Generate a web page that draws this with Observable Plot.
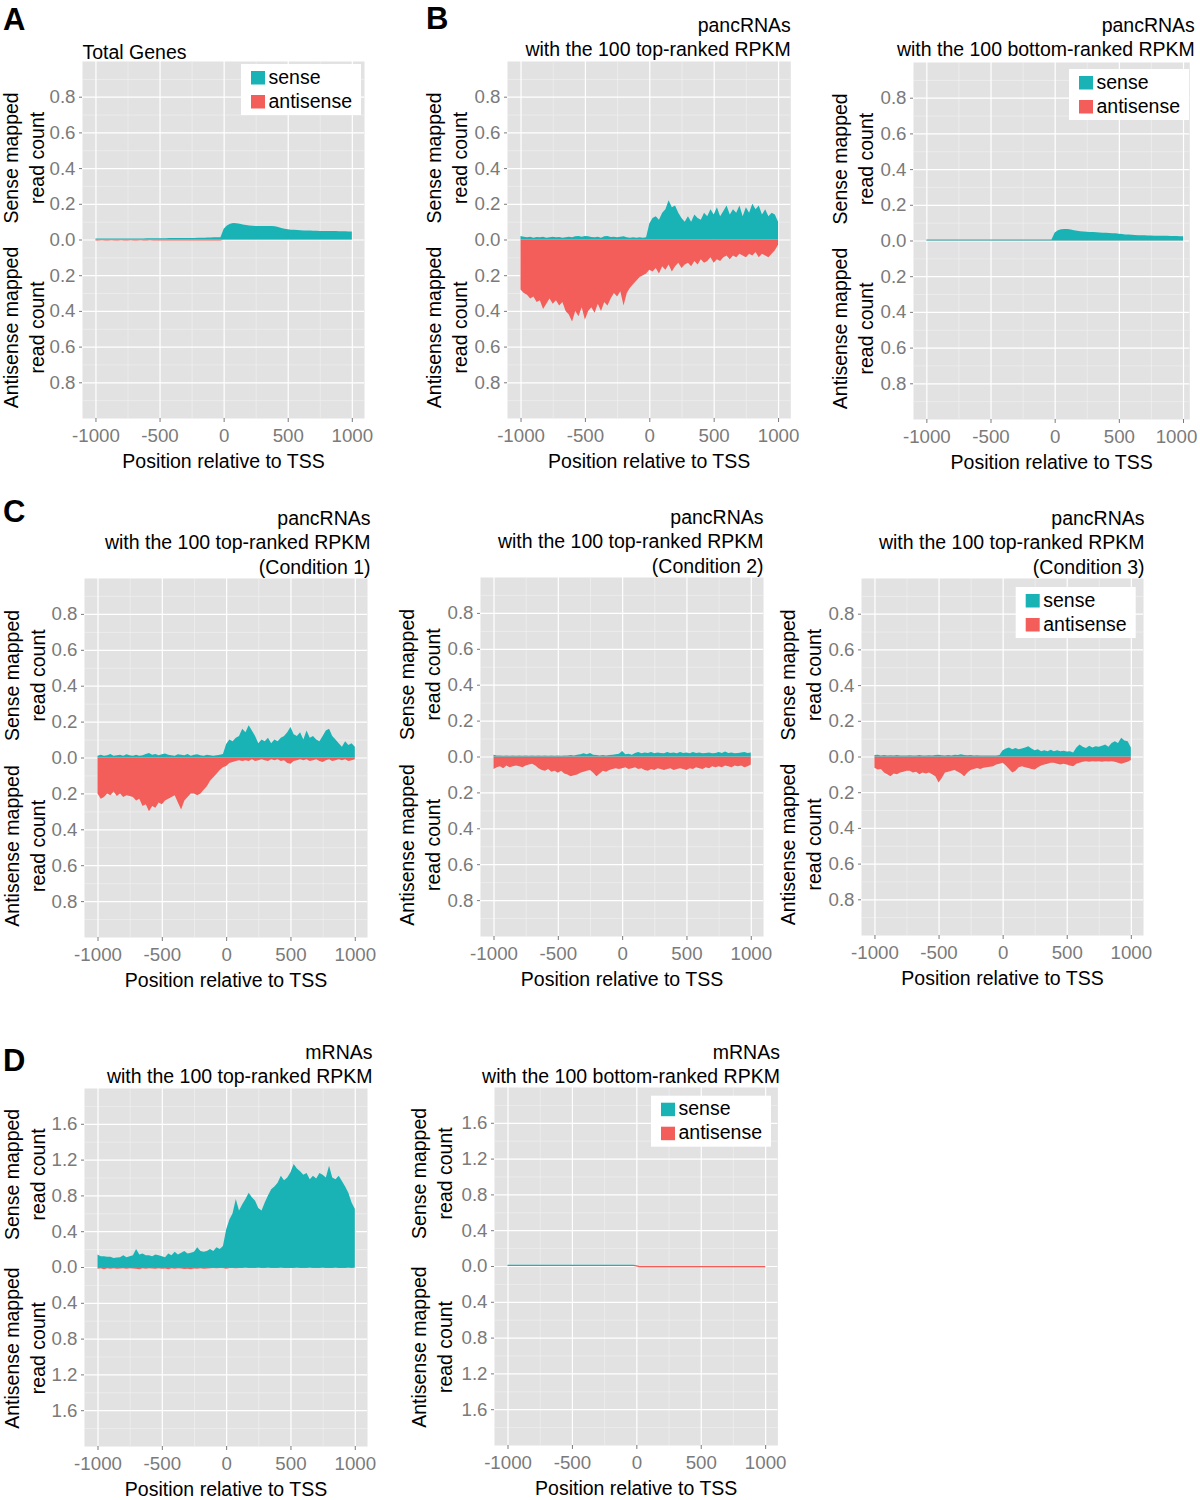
<!DOCTYPE html>
<html>
<head>
<meta charset="utf-8">
<script src="https://cdn.jsdelivr.net/npm/d3@7"></script>
<script src="https://cdn.jsdelivr.net/npm/@observablehq/plot@0.6"></script>
<style>
  body { margin: 0; background: #fff; }
  #page { position: relative; width: 1200px; height: 1500px; overflow: hidden; background: #fff; }
  .panel { position: absolute; }
  #overlay { position: absolute; left: 0; top: 0; pointer-events: none; }
</style>
</head>
<body>
<div id="page"></div>
<script>
// ---------- data ----------
const positions = [
  -1000,-975,-950,-925,-900,-875,-850,-825,-800,-775,
  -750,-725,-700,-675,-650,-625,-600,-575,-550,-525,
  -500,-475,-450,-425,-400,-375,-350,-325,-300,-275,
  -250,-225,-200,-175,-150,-125,-100,-75,-50,-25,
  0,25,50,75,100,125,150,175,200,225,
  250,275,300,325,350,375,400,425,450,475,
  500,525,550,575,600,625,650,675,700,725,
  750,775,800,825,850,875,900,925,950,975,1000
];

// Panel A: Total Genes
const totalSense = [
  0.006,0.006,0.006,0.006,0.006,0.006,0.006,0.006,0.006,0.006,
  0.006,0.006,0.006,0.006,0.006,0.006,0.007,0.007,0.007,0.007,
  0.007,0.007,0.007,0.008,0.008,0.008,0.008,0.008,0.009,0.009,
  0.009,0.009,0.010,0.010,0.010,0.011,0.011,0.012,0.012,0.013,
  0.060,0.078,0.088,0.092,0.091,0.088,0.084,0.081,0.079,0.077,
  0.076,0.075,0.075,0.075,0.075,0.076,0.074,0.070,0.065,0.060,
  0.057,0.055,0.054,0.053,0.052,0.051,0.050,0.050,0.049,0.049,
  0.048,0.048,0.048,0.047,0.047,0.047,0.046,0.046,0.046,0.045,0.045
];
const totalAntisense = [
  0.005,0.005,0.004,0.005,0.005,0.004,0.005,0.005,0.004,0.005,
  0.005,0.004,0.005,0.005,0.004,0.005,0.005,0.004,0.005,0.005,
  0.005,0.006,0.005,0.005,0.006,0.005,0.005,0.006,0.005,0.005,
  0.006,0.005,0.005,0.006,0.005,0.005,0.006,0.005,0.005,0.005,
  0.002,0.002,0.002,0.002,0.002,0.002,0.002,0.002,0.002,0.002,
  0.002,0.002,0.002,0.002,0.002,0.002,0.002,0.002,0.002,0.002,
  0.002,0.002,0.002,0.002,0.002,0.002,0.002,0.002,0.002,0.002,
  0.002,0.002,0.002,0.002,0.002,0.002,0.002,0.002,0.002,0.002,0.002
];

// Panel B (left): pancRNAs, 100 top-ranked RPKM
const pancTopSense = [
  0.020,0.015,0.012,0.015,0.010,0.014,0.012,0.016,0.010,0.012,
  0.015,0.012,0.014,0.010,0.012,0.016,0.013,0.018,0.020,0.015,
  0.020,0.018,0.014,0.012,0.016,0.010,0.018,0.020,0.014,0.016,
  0.012,0.015,0.018,0.012,0.010,0.012,0.010,0.012,0.010,0.012,
  0.090,0.120,0.130,0.110,0.150,0.170,0.220,0.180,0.190,0.150,
  0.120,0.100,0.130,0.100,0.140,0.120,0.110,0.150,0.130,0.170,
  0.140,0.180,0.130,0.160,0.190,0.140,0.170,0.150,0.190,0.130,
  0.180,0.150,0.200,0.170,0.190,0.140,0.170,0.130,0.150,0.140,0.100
];
const pancTopAntisense = [
  0.28,0.30,0.31,0.33,0.32,0.35,0.34,0.39,0.36,0.33,
  0.36,0.34,0.37,0.35,0.40,0.42,0.46,0.40,0.43,0.38,
  0.45,0.40,0.38,0.41,0.36,0.40,0.35,0.37,0.33,0.30,
  0.32,0.29,0.37,0.30,0.27,0.25,0.23,0.21,0.20,0.19,
  0.17,0.18,0.16,0.19,0.15,0.17,0.14,0.18,0.15,0.13,
  0.16,0.14,0.13,0.15,0.12,0.14,0.11,0.13,0.12,0.10,
  0.13,0.11,0.12,0.10,0.09,0.11,0.09,0.10,0.08,0.09,
  0.10,0.08,0.09,0.07,0.10,0.08,0.09,0.10,0.08,0.06,0.03
];

// Panel B (right): pancRNAs, 100 bottom-ranked RPKM
const pancBottomSense = [
  0.005,0.005,0.005,0.005,0.005,0.005,0.005,0.005,0.005,0.005,
  0.005,0.005,0.005,0.005,0.005,0.005,0.005,0.005,0.005,0.005,
  0.005,0.005,0.005,0.005,0.005,0.005,0.005,0.005,0.005,0.005,
  0.005,0.005,0.005,0.005,0.005,0.005,0.006,0.006,0.006,0.006,
  0.045,0.058,0.063,0.065,0.064,0.061,0.057,0.054,0.052,0.050,
  0.049,0.048,0.047,0.046,0.045,0.044,0.043,0.042,0.041,0.040,
  0.038,0.036,0.034,0.033,0.032,0.031,0.030,0.029,0.029,0.028,
  0.028,0.027,0.027,0.027,0.026,0.026,0.025,0.025,0.025,0.024,0.024
];
const pancBottomAntisense = [
  0.002,0.002,0.002,0.002,0.002,0.002,0.002,0.002,0.002,0.002,
  0.002,0.002,0.002,0.002,0.002,0.002,0.002,0.002,0.002,0.002,
  0.002,0.002,0.002,0.002,0.002,0.002,0.002,0.002,0.002,0.002,
  0.002,0.002,0.002,0.002,0.002,0.002,0.002,0.002,0.002,0.002,
  0.002,0.002,0.002,0.002,0.002,0.002,0.002,0.002,0.002,0.002,
  0.002,0.002,0.002,0.002,0.002,0.002,0.002,0.002,0.002,0.002,
  0.002,0.002,0.002,0.002,0.002,0.002,0.002,0.002,0.002,0.002,
  0.002,0.002,0.002,0.002,0.002,0.002,0.002,0.002,0.002,0.002,0.002
];

// Panel C: Condition 1
const cond1Sense = [
  0.010,0.015,0.010,0.012,0.020,0.010,0.012,0.015,0.010,0.018,
  0.012,0.010,0.015,0.010,0.012,0.020,0.025,0.015,0.020,0.012,
  0.018,0.022,0.015,0.012,0.010,0.018,0.015,0.012,0.020,0.010,
  0.015,0.018,0.012,0.010,0.015,0.012,0.010,0.012,0.015,0.020,
  0.075,0.100,0.090,0.110,0.120,0.160,0.140,0.180,0.150,0.120,
  0.080,0.100,0.090,0.110,0.080,0.100,0.090,0.110,0.120,0.140,
  0.170,0.130,0.120,0.140,0.100,0.150,0.110,0.120,0.100,0.090,
  0.120,0.150,0.160,0.120,0.100,0.080,0.060,0.090,0.070,0.080,0.060
];
const cond1Antisense = [
  0.200,0.230,0.220,0.200,0.210,0.190,0.215,0.200,0.220,0.210,
  0.215,0.220,0.240,0.230,0.270,0.260,0.300,0.270,0.280,0.250,
  0.260,0.240,0.230,0.220,0.210,0.250,0.290,0.240,0.220,0.200,
  0.200,0.210,0.200,0.180,0.160,0.130,0.110,0.090,0.070,0.055,
  0.047,0.030,0.025,0.020,0.015,0.020,0.015,0.020,0.010,0.020,
  0.015,0.010,0.015,0.020,0.010,0.015,0.010,0.020,0.015,0.030,
  0.035,0.020,0.015,0.010,0.015,0.010,0.020,0.015,0.010,0.020,
  0.025,0.015,0.010,0.020,0.015,0.010,0.015,0.010,0.020,0.015,0.010
];

// Panel C: Condition 2
const cond2Sense = [
  0.010,0.005,0.005,0.004,0.005,0.004,0.005,0.004,0.005,0.004,
  0.005,0.004,0.005,0.004,0.005,0.004,0.005,0.004,0.005,0.004,
  0.005,0.004,0.006,0.005,0.008,0.006,0.010,0.012,0.018,0.012,
  0.020,0.010,0.008,0.006,0.008,0.006,0.008,0.010,0.012,0.015,
  0.030,0.012,0.015,0.010,0.020,0.025,0.018,0.022,0.020,0.025,
  0.018,0.022,0.020,0.018,0.025,0.020,0.022,0.018,0.025,0.020,
  0.022,0.018,0.025,0.020,0.022,0.018,0.020,0.022,0.018,0.020,
  0.025,0.020,0.028,0.020,0.022,0.018,0.020,0.022,0.025,0.020,0.022
];
const cond2Antisense = [
  0.070,0.060,0.055,0.065,0.050,0.060,0.055,0.050,0.055,0.060,
  0.050,0.045,0.040,0.050,0.065,0.075,0.080,0.070,0.085,0.080,
  0.090,0.080,0.095,0.100,0.110,0.105,0.100,0.090,0.085,0.080,
  0.075,0.090,0.110,0.095,0.080,0.085,0.075,0.070,0.065,0.070,
  0.065,0.060,0.070,0.065,0.060,0.070,0.065,0.075,0.080,0.070,
  0.075,0.065,0.070,0.075,0.070,0.065,0.075,0.070,0.065,0.070,
  0.075,0.065,0.070,0.060,0.065,0.070,0.060,0.065,0.055,0.060,
  0.055,0.060,0.050,0.055,0.060,0.050,0.055,0.050,0.060,0.055,0.045
];

// Panel C: Condition 3
const cond3Sense = [
  0.008,0.010,0.006,0.008,0.005,0.007,0.006,0.008,0.005,0.006,
  0.005,0.007,0.006,0.005,0.008,0.006,0.005,0.007,0.006,0.008,
  0.010,0.007,0.006,0.008,0.006,0.010,0.008,0.012,0.009,0.007,
  0.008,0.006,0.007,0.005,0.006,0.005,0.006,0.005,0.006,0.008,
  0.035,0.045,0.050,0.040,0.048,0.040,0.045,0.050,0.058,0.045,
  0.035,0.040,0.030,0.035,0.030,0.038,0.030,0.035,0.030,0.032,
  0.028,0.030,0.022,0.050,0.067,0.055,0.048,0.060,0.050,0.058,
  0.055,0.060,0.067,0.055,0.075,0.085,0.075,0.105,0.090,0.085,0.050
];
const cond3Antisense = [
  0.063,0.073,0.070,0.090,0.100,0.110,0.095,0.100,0.090,0.085,
  0.080,0.080,0.090,0.085,0.100,0.090,0.095,0.090,0.100,0.110,
  0.145,0.120,0.090,0.085,0.080,0.075,0.085,0.095,0.110,0.090,
  0.075,0.070,0.065,0.070,0.063,0.060,0.058,0.054,0.045,0.040,
  0.035,0.050,0.070,0.090,0.080,0.060,0.054,0.060,0.065,0.070,
  0.073,0.060,0.050,0.045,0.040,0.035,0.035,0.040,0.045,0.040,
  0.045,0.050,0.054,0.040,0.035,0.030,0.026,0.030,0.026,0.028,
  0.026,0.030,0.026,0.028,0.026,0.030,0.035,0.040,0.035,0.030,0.020
];

// Panel D (left): mRNAs, 100 top-ranked RPKM
const mrnaTopSense = [
  0.140,0.120,0.120,0.115,0.115,0.100,0.105,0.110,0.130,0.110,
  0.120,0.130,0.200,0.140,0.150,0.130,0.130,0.120,0.140,0.130,
  0.120,0.110,0.150,0.130,0.170,0.140,0.160,0.180,0.150,0.160,
  0.170,0.220,0.180,0.170,0.180,0.200,0.180,0.220,0.200,0.235,
  0.420,0.530,0.600,0.760,0.630,0.700,0.760,0.830,0.780,0.740,
  0.660,0.630,0.720,0.800,0.870,0.900,0.940,1.020,0.970,1.000,
  1.060,1.150,1.100,1.070,1.030,1.050,0.980,1.020,0.990,1.050,
  1.030,1.000,1.130,1.000,0.980,1.020,0.960,0.900,0.830,0.720,0.650
];
const mrnaTopAntisense = [
  0.020,0.015,0.025,0.015,0.020,0.015,0.020,0.018,0.015,0.020,
  0.015,0.018,0.020,0.025,0.015,0.020,0.015,0.018,0.020,0.015,
  0.020,0.018,0.025,0.015,0.020,0.015,0.018,0.022,0.020,0.025,
  0.018,0.020,0.015,0.020,0.018,0.015,0.012,0.015,0.010,0.012,
  0.020,0.012,0.010,0.015,0.010,0.012,0.008,0.010,0.012,0.010,
  0.008,0.010,0.012,0.008,0.010,0.012,0.010,0.008,0.012,0.010,
  0.010,0.012,0.008,0.010,0.012,0.010,0.008,0.010,0.012,0.010,
  0.008,0.010,0.012,0.010,0.008,0.010,0.012,0.010,0.008,0.010,0.008
];

// Panel D (right): mRNAs, 100 bottom-ranked RPKM
const mrnaBottomSense = [
  0.015,0.015,0.015,0.015,0.015,0.015,0.015,0.015,0.015,0.015,
  0.015,0.015,0.015,0.015,0.015,0.015,0.015,0.015,0.015,0.015,
  0.015,0.015,0.015,0.015,0.015,0.015,0.015,0.015,0.015,0.015,
  0.015,0.015,0.015,0.015,0.015,0.015,0.015,0.015,0.015,0.015,
  0.007,0.000,0.000,0.000,0.000,0.000,0.000,0.000,0.000,0.000,
  0.000,0.000,0.000,0.000,0.000,0.000,0.000,0.000,0.000,0.000,
  0.000,0.000,0.000,0.000,0.000,0.000,0.000,0.000,0.000,0.000,
  0.000,0.000,0.000,0.000,0.000,0.000,0.000,0.000,0.000,0.000,0.000
];
const mrnaBottomAntisense = [
  0.000,0.000,0.000,0.000,0.000,0.000,0.000,0.000,0.000,0.000,
  0.000,0.000,0.000,0.000,0.000,0.000,0.000,0.000,0.000,0.000,
  0.000,0.000,0.000,0.000,0.000,0.000,0.000,0.000,0.000,0.000,
  0.000,0.000,0.000,0.000,0.000,0.000,0.000,0.000,0.000,0.000,
  0.007,0.015,0.015,0.015,0.015,0.015,0.015,0.015,0.015,0.015,
  0.015,0.015,0.015,0.015,0.015,0.015,0.015,0.015,0.015,0.015,
  0.015,0.015,0.015,0.015,0.015,0.015,0.015,0.015,0.015,0.015,
  0.015,0.015,0.015,0.015,0.015,0.015,0.015,0.015,0.015,0.015,0.015
];

// axis ticks / labels
const xTicks = [-1000, -500, 0, 500, 1000];
const xMinor = [-750, -250, 250, 750];
const yTicksSmall = [-0.8, -0.6, -0.4, -0.2, 0, 0.2, 0.4, 0.6, 0.8];
const yMinorSmall = [-0.9, -0.7, -0.5, -0.3, -0.1, 0.1, 0.3, 0.5, 0.7, 0.9];
const yTicksLarge = [-1.6, -1.2, -0.8, -0.4, 0, 0.4, 0.8, 1.2, 1.6];
const yMinorLarge = [-1.8, -1.4, -1.0, -0.6, -0.2, 0.2, 0.6, 1.0, 1.4, 1.8];
const seriesNames = ["sense", "antisense"];
const xTitle = "Position relative to TSS";
const senseTitle = "Sense mapped\nread count";
const antisenseTitle = "Antisense mapped\nread count";

// ---------- styling ----------
const FONT = '"Liberation Sans", Arial, Helvetica, sans-serif';
const TEAL = "#19b3b5", RED = "#f35e5a", BG = "#e2e2e2", GREY = "#7a7a7a";

const checks = {totalSense, totalAntisense, pancTopSense, pancTopAntisense, pancBottomSense, pancBottomAntisense,
  cond1Sense, cond1Antisense, cond2Sense, cond2Antisense, cond3Sense, cond3Antisense,
  mrnaTopSense, mrnaTopAntisense, mrnaBottomSense, mrnaBottomAntisense};
for (const [k, v] of Object.entries(checks)) if (v.length !== positions.length) throw new Error("length mismatch " + k + " " + v.length);

const panels = [
  {L: 82, T: 61, R: 364, B: 418, xdom: [-1105, 1095], ymax: 1, sense: totalSense, anti: totalAntisense,
   title: "Total Genes", align: "left", tdx: 0, tdy: -3, sf: 0.46, af: 0.49, ydx: 2},
  {L: 506.7, T: 61, R: 790, B: 418, xdom: [-1105, 1095], ymax: 1, sense: pancTopSense, anti: pancTopAntisense,
   title: "pancRNAs\nwith the 100 top-ranked RPKM", align: "right", tdx: 0, tdy: -5, sf: 0.46, af: 0.49, ydx: 0},
  {L: 912.7, T: 62, R: 1189, B: 419, xdom: [-1104, 1049], ymax: 1, sense: pancBottomSense, anti: pancBottomAntisense,
   title: "pancRNAs\nwith the 100 bottom-ranked RPKM", align: "right", tdx: 5, tdy: -6, sf: 0.46, af: 0.49, ydx: 0, lastDx: -7},
  {L: 84, T: 578, R: 367, B: 937, xdom: [-1105, 1095], ymax: 1, sense: cond1Sense, anti: cond1Antisense,
   title: "pancRNAs\nwith the 100 top-ranked RPKM\n(Condition 1)", align: "right", tdx: 3, tdy: -5, sf: 0.46, af: 0.49, ydx: 1},
  {L: 480, T: 577, R: 763, B: 936, xdom: [-1105, 1095], ymax: 1, sense: cond2Sense, anti: cond2Antisense,
   title: "pancRNAs\nwith the 100 top-ranked RPKM\n(Condition 2)", align: "right", tdx: 0, tdy: -5, sf: 0.46, af: 0.49, ydx: 0},
  {L: 861, T: 578, R: 1143, B: 935, xdom: [-1105, 1095], ymax: 1, sense: cond3Sense, anti: cond3Antisense,
   title: "pancRNAs\nwith the 100 top-ranked RPKM\n(Condition 3)", align: "right", tdx: 1, tdy: -5, sf: 0.46, af: 0.49, ydx: 0},
  {L: 84.3, T: 1088, R: 367.3, B: 1446, xdom: [-1105, 1095], ymax: 2, sense: mrnaTopSense, anti: mrnaTopAntisense,
   title: "mRNAs\nwith the 100 top-ranked RPKM", align: "right", tdx: 5, tdy: -5.5, sf: 0.52, af: 0.45, ydx: 1},
  {L: 494.3, T: 1087, R: 777.7, B: 1445, xdom: [-1105, 1095], ymax: 2, sense: mrnaBottomSense, anti: mrnaBottomAntisense,
   title: "mRNAs\nwith the 100 bottom-ranked RPKM", align: "right", tdx: 2, tdy: -4, sf: 0.52, af: 0.45, ydx: -2}
];

const page = document.getElementById("page");
const mL = 100, mR = 20, mT = 90, mB = 70;

for (const p of panels) {
  const data = positions.map((x, i) => ({x, s: p.sense[i], a: -p.anti[i]}));
  const yTicks = p.ymax > 1 ? yTicksLarge : yTicksSmall;
  const yMinor = p.ymax > 1 ? yMinorLarge : yMinorSmall;
  const w = (p.R - p.L) + mL + mR, h = (p.B - p.T) + mT + mB;
  const titleLeft = p.align === "left";
  const axisOpts = {tickSize: 4, tickPadding: 6, color: GREY, label: null, fontSize: 18.7, tickFormat: d => String(d)};
  const xAxes = p.lastDx
    ? [Plot.axisX(xTicks.slice(0, -1), axisOpts),
       Plot.axisX(xTicks.slice(-1), {...axisOpts, strokeOpacity: 0, dx: p.lastDx}),
       Plot.axisX(xTicks.slice(-1), {...axisOpts, tickFormat: () => ""})]
    : [Plot.axisX(xTicks, axisOpts)];
  const chart = Plot.plot({
    width: w, height: h,
    marginLeft: mL, marginRight: mR, marginTop: mT, marginBottom: mB,
    style: {fontFamily: FONT, fontSize: "18.7px", background: "transparent", overflow: "visible", maxWidth: "none"},
    x: {domain: p.xdom},
    y: {domain: [-p.ymax, p.ymax]},
    marks: [
      Plot.frame({fill: BG, stroke: null}),
      Plot.ruleX(xMinor, {x: d => d, stroke: "#f2f2f2", strokeWidth: 0.6}),
      Plot.ruleY(yMinor, {y: d => d, stroke: "#f2f2f2", strokeWidth: 0.6}),
      Plot.ruleX(xTicks, {x: d => d, stroke: "#ffffff", strokeWidth: 1.2}),
      Plot.ruleY(yTicks, {y: d => d, stroke: "#ffffff", strokeWidth: 1.2}),
      Plot.areaY(data, {x: "x", y1: 0, y2: "a", fill: RED}),
      Plot.areaY(data, {x: "x", y1: 0, y2: "s", fill: TEAL}),
      ...xAxes,
      Plot.axisY(yTicks, {tickSize: 3, tickPadding: 4, color: GREY, label: null, fontSize: 18.7, tickFormat: d => Math.abs(d).toFixed(1)}),
      Plot.text([xTitle], {text: d => d, frameAnchor: "bottom", dy: 49.5, lineAnchor: "bottom", fontSize: 19.5, fill: "#000"}),
      Plot.text([{y: p.sf * p.ymax, t: senseTitle}, {y: -p.af * p.ymax, t: antisenseTitle}],
        {y: "y", text: "t", frameAnchor: "left", dx: -61.5 + p.ydx, rotate: -90, textAnchor: "middle", lineAnchor: "middle",
         lineHeight: 1.33, fontSize: 19.5, fill: "#000"}),
      Plot.text([p.title], {text: d => d, frameAnchor: titleLeft ? "top-left" : "top-right",
        textAnchor: titleLeft ? "start" : "end", lineAnchor: "bottom", dx: p.tdx, dy: p.tdy,
        lineHeight: 1.256, fontSize: 19.5, fill: "#000"})
    ]
  });
  const div = document.createElement("div");
  div.className = "panel";
  div.style.left = (p.L - mL) + "px";
  div.style.top = (p.T - mT) + "px";
  div.style.width = w + "px";
  div.style.height = h + "px";
  div.appendChild(chart);
  page.appendChild(div);
}

// ---------- overlay: panel letters and legends ----------
const overlay = d3.select(page).append("svg")
  .attr("id", "overlay").attr("width", 1200).attr("height", 1500)
  .style("font-family", FONT);

const letters = [
  {t: "A", x: 3, y: 30}, {t: "B", x: 426, y: 29},
  {t: "C", x: 3, y: 522}, {t: "D", x: 3, y: 1071}
];
overlay.selectAll("text.letter").data(letters).join("text")
  .attr("class", "letter").attr("x", d => d.x).attr("y", d => d.y)
  .attr("font-size", 31).attr("font-weight", "bold").attr("fill", "#000").text(d => d.t);

const legends = [{x: 241, y: 64}, {x: 1069, y: 69}, {x: 1015.7, y: 587}, {x: 651, y: 1095.7}];
const legendColors = [TEAL, RED];
for (const lg of legends) {
  const g = overlay.append("g").attr("transform", `translate(${lg.x},${lg.y})`);
  g.append("rect").attr("width", 120).attr("height", 51).attr("fill", "#fff");
  seriesNames.forEach((name, i) => {
    g.append("rect").attr("x", 10).attr("y", 7 + i * 24).attr("width", 14).attr("height", 13.5).attr("fill", legendColors[i]);
    g.append("text").attr("x", 27.5).attr("y", 19.5 + i * 24).attr("font-size", 19.5).attr("fill", "#000").text(name);
  });
}
</script>
</body>
</html>
